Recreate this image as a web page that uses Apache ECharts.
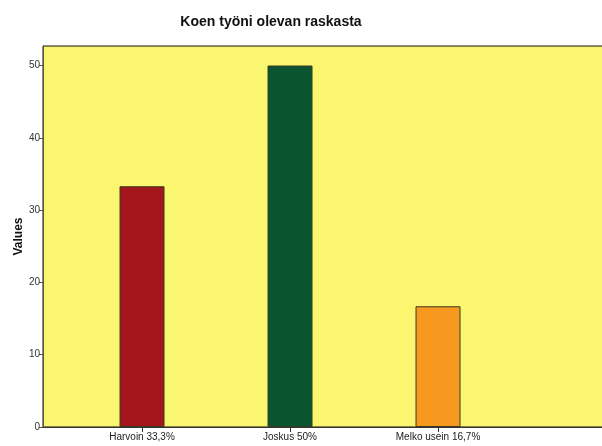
<!DOCTYPE html>
<html>
<head>
<meta charset="utf-8">
<script src="https://cdn.jsdelivr.net/npm/echarts@6/dist/echarts.min.js"></script>
<style>
  html, body { margin: 0; padding: 0; background: #fff; }
  #chart { width: 602px; height: 446px; }
</style>
</head>
<body>
<div id="chart"></div>
<script>
// Survey answers: share of respondents (%) per answer
const categories = ['Harvoin 33,3%', 'Joskus 50%', 'Melko usein 16,7%'];
const values = [33.3, 50, 16.7];
const barColors = ['#a3171c', '#0a5530', '#f7991f'];
const yTicks = [0, 10, 20, 30, 40, 50];

const chart = echarts.init(document.getElementById('chart'), null, { renderer: 'canvas' });

const font = 'Arial, "Liberation Sans", sans-serif';

chart.setOption({
  animation: false,
  title: {
    text: 'Koen työni olevan raskasta',
    left: 266,
    top: 10,
    textAlign: 'center',
    textStyle: { fontFamily: font, fontSize: 14, fontWeight: 'bold', color: '#111' }
  },
  grid: {
    left: 43,
    width: 575,
    top: 46,
    bottom: 19,
    outerBoundsMode: 'none',
    containLabel: false,
    show: true,
    backgroundColor: '#faf670',
    borderColor: '#111',
    borderWidth: 1
  },
  xAxis: {
    type: 'value',
    min: -0.669,
    max: 3.216,
    splitLine: { show: false },
    axisLine: { show: true, onZero: false, lineStyle: { color: '#333', width: 1 } },
    axisTick: { show: true, length: 5, lineStyle: { color: '#333' }, customValues: [0, 1, 2] },
    axisLabel: {
      customValues: [0, 1, 2],
      formatter: v => categories[Math.round(v)] || '',
      fontFamily: font, fontSize: 10, color: '#222', margin: 5
    }
  },
  yAxis: {
    type: 'value',
    min: 0,
    max: 52.7,
    interval: 10,
    name: 'Values',
    nameLocation: 'middle',
    nameGap: 18,
    nameMoveOverlap: false,
    nameTextStyle: { fontFamily: font, fontSize: 12, fontWeight: 'bold', color: '#111' },
    splitLine: { show: false },
    axisLine: { show: true, onZero: false, lineStyle: { color: '#5a5a3c', width: 1 } },
    axisTick: { show: true, length: 4, lineStyle: { color: '#5a5a3c' }, customValues: yTicks },
    axisLabel: {
      customValues: yTicks,
      fontFamily: font, fontSize: 10, color: '#333', margin: 3
    }
  },
  series: [{
    type: 'bar',
    barWidth: 45,
    data: values.map((v, i) => ({
      value: [i, v],
      itemStyle: { color: barColors[i], borderColor: '#3a3a22', borderWidth: 1 }
    }))
  }]
});
</script>
</body>
</html>
